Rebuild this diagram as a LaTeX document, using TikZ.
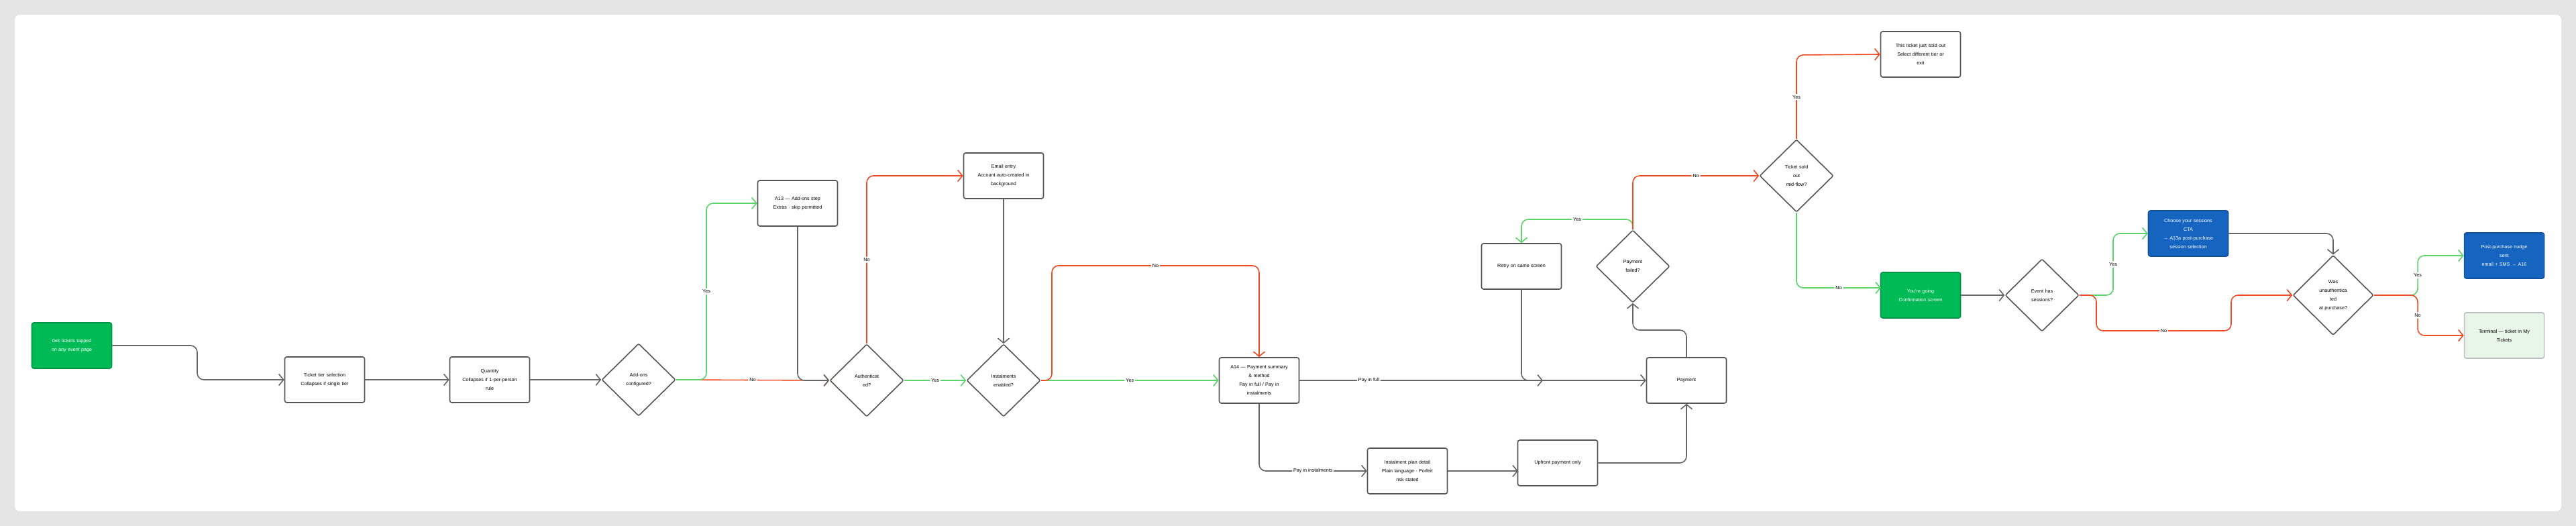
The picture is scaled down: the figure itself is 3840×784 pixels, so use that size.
\documentclass[tikz,border=0pt]{standalone}
\usepackage{fontspec}
\setmainfont{Liberation Sans}
\usetikzlibrary{arrows.meta,shapes.geometric}
\definecolor{gbox}{HTML}{00BA55}
\definecolor{bbox}{HTML}{1565C0}
\definecolor{lgbox}{HTML}{E8F5E9}
\definecolor{redl}{HTML}{F04A23}
\definecolor{grnl}{HTML}{5DD36B}
\definecolor{gryl}{HTML}{666666}
\definecolor{edge}{HTML}{555555}
\begin{document}
\begin{tikzpicture}[x=1pt,y=-1pt,
  every node/.style={font=\fontsize{7.2}{13}\selectfont},
  box/.style={draw=edge,line width=1.6pt,rounded corners=3pt,fill=white,minimum width=119pt,minimum height=68pt,text width=108pt,align=center,inner sep=0pt},
  gb/.style={box,fill=gbox,draw=gbox!80!black,text=white},
  bb/.style={box,fill=bbox,draw=bbox!80!black,text=white},
  lb/.style={box,fill=lgbox,draw=gray!50},
  dia/.style={draw=edge,line width=1.6pt,diamond,minimum width=110pt,minimum height=108pt,inner sep=0pt,rounded corners=2pt},
  dt/.style={font=\fontsize{7.2}{13}\selectfont,align=center,text width=60pt},
  con/.style={line width=1.6pt,rounded corners=10pt,-{Straight Barb[length=7pt,width=17pt,line width=1.6pt]}},
  g/.style={con,draw=gryl},
  r/.style={con,draw=redl},
  gr/.style={con,draw=grnl},
  lab/.style={fill=white,inner sep=2pt,font=\fontsize{7.2}{9}\selectfont}]
\fill[gray!20] (0,0) rectangle (3840,784);
\fill[white,rounded corners=8pt] (22,22) rectangle (3818,762);
% nodes
\node[gb] (start) at (107,515) {Get tickets tapped\\on any event page};
\node[box] (tier) at (484,566) {Ticket tier selection\\Collapses if single tier};
\node[box] (qty) at (730,566) {Quantity\\Collapses if 1-per-person\\rule};
\node[dia] (addons) at (952,566) {};
\node[dt] at (addons) {Add-ons\\configured?};
\node[box] (a13) at (1189,303) {A13 — Add-ons step\\Extras · skip permitted};
\node[dia] (auth) at (1292,567) {};
\node[dt] at (auth) {Authenticat\\ed?};
\node[box] (email) at (1496,262) {Email entry\\Account auto-created in\\background};
\node[dia] (inst) at (1496,567) {};
\node[dt] at (inst) {Instalments\\enabled?};
\node[box] (a14) at (1877,567) {A14 — Payment summary\\\& method\\Pay in full / Pay in\\instalments};
\node[box] (pay) at (2514,567) {Payment};
\node[box] (plan) at (2098,702) {Instalment plan detail\\Plain language · Forfeit\\risk stated};
\node[box] (up) at (2322,690) {Upfront payment only};
\node[box] (retry) at (2268,397) {Retry on same screen};
\node[dia] (pf) at (2434,397) {};
\node[dt] at (pf) {Payment\\failed?};
\node[dia] (so) at (2678,262) {};
\node[dt] at (so) {Ticket sold\\out\\mid-flow?};
\node[box] (soldout) at (2863,81) {This ticket just sold out\\Select different tier or\\exit};
\node[gb] (conf) at (2863,440) {You're going\\Confirmation screen};
\node[dia] (ev) at (3044,440) {};
\node[dt] at (ev) {Event has\\sessions?};
\node[bb] (sess) at (3262,348) {Choose your sessions\\CTA\\→ A13a post-purchase\\session selection};
\node[dia,minimum width=120pt,minimum height=119pt] (was) at (3478,440) {};
\node[dt] at (was) {Was\\unauthentica\\ted\\at purchase?};
\node[bb] (nudge) at (3733,381) {Post-purchase nudge\\sent\\email + SMS → A16};
\node[lb] (term) at (3733,500) {Terminal — ticket in My\\Tickets};
% connectors
\draw[g] (start.east) -- (294,515) -- (294,566) -- (tier.west);
\draw[g] (tier.east) -- (qty.west);
\draw[g] (qty.east) -- (addons.west);
\draw[r] (addons.east) -- node[lab]{No} (auth.west);
\draw[gr] (addons.east) -- (1053,566) -- node[lab]{Yes} (1053,303) -- (a13.west);
\draw[g] (a13.south) -- (1189,567) -- (auth.west);
\draw[r] (auth.north) -- node[lab,pos=0.5]{No} (1292,262) -- (email.west);
\draw[gr] (auth.east) -- node[lab]{Yes} (inst.west);
\draw[g] (email.south) -- (inst.north);
\draw[gr] (inst.east) -- node[lab]{Yes} (a14.west);
\draw[r] (inst.east) -- (1568,567) -- (1568,396) -- node[lab]{No} (1877,396) -- (a14.north);
\draw[g] (a14.east) -- node[lab,pos=0.2]{Pay in full} (pay.west);
\draw[g] (a14.south) -- (1877,702) -- node[lab]{Pay in instalments} (plan.west);
\draw[g] (plan.east) -- (2263,702);
\draw[g] (up.east) -- (2514,690) -- (pay.south);
\draw[g] (retry.south) -- (2268,567) -- (2300,567);
\draw[g] (pay.north) -- (2514,492) -- (2434,492) -- (pf.south);
\draw[gr] (pf.north) -- (2434,327) -- node[lab]{Yes} (2268,327) -- (retry.north);
\draw[r] (pf.north) -- (2434,262) -- node[lab]{No} (so.west);
\draw[r] (so.north) -- node[lab]{Yes} (2678,82) -- (soldout.west);
\draw[gr] (so.south) -- (2678,429) -- node[lab]{No} (2804,429);
\draw[g] (conf.east) -- (ev.west);
\draw[gr] (ev.east) -- (3150,440) -- node[lab]{Yes} (3150,348) -- (sess.west);
\draw[r] (ev.east) -- (3125,440) -- (3125,493) -- node[lab]{No} (3326,493) -- (3326,440) -- (was.west);
\draw[g] (sess.east) -- (3478,348) -- (was.north);
\draw[gr] (was.east) -- (3604,440) -- node[lab]{Yes} (3604,381) -- (nudge.west);
\draw[r] (was.east) -- (3604,440) -- node[lab]{No} (3604,500) -- (term.west);
\end{tikzpicture}
\end{document}
